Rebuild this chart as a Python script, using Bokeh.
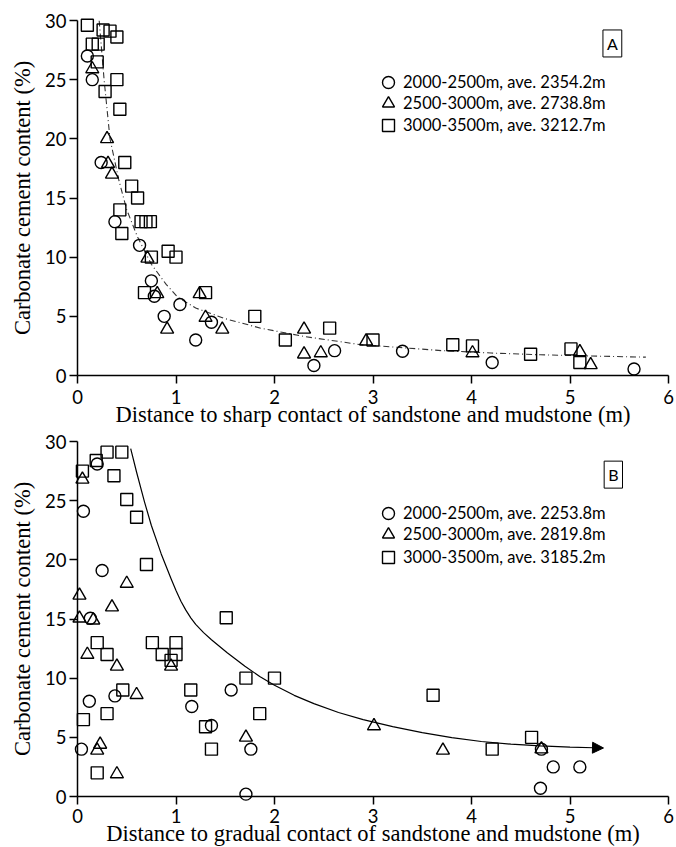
from bokeh.plotting import figure
from bokeh.models import Legend, LegendItem, Label, Arrow, NormalHead, FixedTicker, Range1d
from bokeh.layouts import column
from bokeh.embed import file_html
from bokeh.resources import INLINE

# ---------------- Panel A data (sharp contact) ----------------
a_circ_x = [0.10, 0.15, 0.24, 0.38, 0.63, 0.75, 0.78, 0.88, 1.04, 1.20, 1.36, 2.40, 2.61, 3.30, 4.21, 5.65]
a_circ_y = [27.0, 25.0, 18.0, 13.0, 11.0, 8.0, 6.7, 5.0, 6.0, 3.0, 4.5, 0.85, 2.1, 2.05, 1.1, 0.55]

a_tri_x = [0.15, 0.30, 0.31, 0.35, 0.71, 0.81, 0.91, 1.24, 1.30, 1.47, 2.30, 2.30, 2.47, 2.93, 4.01, 5.10, 5.21]
a_tri_y = [25.9, 20.0, 17.9, 17.0, 9.9, 6.9, 3.9, 6.9, 4.9, 3.9, 3.9, 1.8, 1.9, 2.9, 1.9, 2.0, 0.9]

a_sq_x = [0.10, 0.26, 0.33, 0.40, 0.15, 0.21, 0.20, 0.40, 0.28, 0.43, 0.48, 0.55, 0.61, 0.43, 0.645, 0.695,
          0.74, 0.45, 0.75, 0.92, 1.00, 0.68, 1.30, 1.80, 2.11, 2.56, 3.00, 3.81, 4.01, 4.60, 5.01, 5.10]
a_sq_y = [29.6, 29.2, 29.1, 28.6, 28.0, 28.0, 26.5, 25.0, 24.0, 22.5, 18.0, 16.0, 15.0, 14.0, 13.0, 13.0,
          13.0, 12.0, 10.0, 10.5, 10.0, 7.0, 7.0, 5.0, 3.0, 4.0, 3.0, 2.6, 2.5, 1.8, 2.25, 1.1]

a_fit_x = [0.22, 0.27, 0.33, 0.42, 0.50, 0.61, 0.75, 0.90, 1.02, 1.20, 1.50, 1.86, 2.30, 2.88, 3.30, 3.70, 4.20, 4.70, 5.20, 5.77]
a_fit_y = [30.0, 25.0, 20.0, 16.5, 14.0, 11.7, 9.4, 7.7, 6.6, 5.7, 4.8, 4.0, 3.3, 2.6, 2.35, 2.1, 1.9, 1.75, 1.65, 1.55]

a_labels = ["2000-2500m, ave. 2354.2m", "2500-3000m, ave. 2738.8m", "3000-3500m, ave. 3212.7m"]

# ---------------- Panel B data (gradual contact) ----------------
b_circ_x = [0.20, 0.06, 0.25, 0.13, 0.38, 0.12, 0.04, 1.16, 1.36, 1.56, 1.76, 1.71, 4.71, 4.70, 4.83, 5.10]
b_circ_y = [28.1, 24.1, 19.1, 15.06, 8.5, 8.05, 4.0, 7.6, 6.0, 9.0, 4.0, 0.2, 4.0, 0.7, 2.5, 2.5]

b_tri_x = [0.05, 0.50, 0.02, 0.35, 0.02, 0.16, 0.10, 0.40, 0.60, 0.23, 0.20, 0.40, 0.95, 1.71, 3.01, 3.71, 4.71]
b_tri_y = [26.8, 18.0, 17.0, 16.0, 15.06, 14.9, 12.0, 11.0, 8.6, 4.4, 3.9, 1.9, 11.0, 5.0, 5.96, 3.9, 4.0]

b_sq_x = [0.30, 0.45, 0.19, 0.05, 0.37, 0.50, 0.60, 0.70, 1.51, 0.20, 0.30, 0.46, 0.30, 0.06, 0.20, 0.76,
          1.00, 0.86, 1.00, 0.95, 1.15, 1.30, 1.36, 1.71, 1.85, 2.00, 3.61, 4.21, 4.61]
b_sq_y = [29.1, 29.1, 28.4, 27.5, 27.1, 25.1, 23.6, 19.6, 15.1, 13.0, 12.0, 9.0, 7.0, 6.5, 2.0, 13.0,
          13.0, 12.0, 12.0, 11.5, 9.0, 5.9, 4.0, 10.0, 7.0, 10.0, 8.56, 4.0, 5.0]

b_fit_x = [0.54, 0.60, 0.68, 0.75, 0.85, 0.95, 1.00, 1.05, 1.10, 1.15, 1.20, 1.28, 1.36, 1.52, 1.70, 1.85,
           2.00, 2.20, 2.40, 2.65, 2.90, 3.20, 3.50, 3.80, 4.10, 4.40, 4.70, 5.00, 5.24]
b_fit_y = [29.4, 27.4, 24.9, 22.9, 20.5, 18.4, 17.4, 16.5, 15.75, 15.1, 14.55, 13.85, 13.25, 12.15, 11.0, 10.15,
           9.4, 8.55, 7.85, 7.1, 6.5, 5.9, 5.4, 4.98, 4.65, 4.42, 4.27, 4.17, 4.12]
b_arrow_end = (5.34, 4.10)

b_labels = ["2000-2500m, ave. 2253.8m", "2500-3000m, ave. 2819.8m", "3000-3500m, ave. 3185.2m"]

x_ticks = [0, 1, 2, 3, 4, 5, 6]
y_ticks = [0, 5, 10, 15, 20, 25, 30]

SANS = "Lato"
SERIF = "Liberation Serif"


def make_panel(xtitle, top_border, label_standoff, title_standoff,
               cx, cy, tx, ty, sx, sy, labels, tag, tag_xy, legend_x, legend_ys):
    p = figure(frame_width=591, frame_height=355, output_backend="svg", toolbar_location=None,
               x_range=Range1d(0, 6), y_range=Range1d(0, 30),
               min_border_left=77, min_border_right=8, min_border_top=top_border, min_border_bottom=4)
    p.outline_line_color = None
    p.xgrid.visible = False
    p.ygrid.visible = False
    p.background_fill_color = "white"
    p.border_fill_color = "white"

    for ax in (p.xaxis[0], p.yaxis[0]):
        ax.axis_line_width = 1.5
        ax.major_tick_line_width = 1.5
        ax.major_tick_out = 8
        ax.major_tick_in = 0
        ax.minor_tick_out = 0
        ax.minor_tick_in = 0
        ax.major_label_text_font = SANS
        ax.major_label_text_font_size = "18.5px"
        ax.major_label_text_color = "black"
        ax.axis_label_text_font = SERIF
        ax.axis_label_text_font_size = "22.5px"
        ax.axis_label_text_font_style = "normal"
        ax.axis_label_text_color = "black"
    p.xaxis[0].ticker = FixedTicker(ticks=x_ticks)
    p.yaxis[0].ticker = FixedTicker(ticks=y_ticks)
    p.xaxis[0].axis_label = xtitle
    p.yaxis[0].axis_label = "Carbonate cement content (%)"
    p.xaxis[0].major_label_standoff = label_standoff
    p.xaxis[0].axis_label_standoff = title_standoff
    p.yaxis[0].major_label_standoff = 3
    p.yaxis[0].axis_label_standoff = 7

    rc = p.scatter(cx, cy, marker="circle", size=12, fill_color=None, line_color="black", line_width=1.4, level="overlay")
    rt = p.scatter(tx, ty, marker="triangle", size=13, fill_color=None, line_color="black", line_width=1.4, level="overlay")
    rs = p.scatter(sx, sy, marker="square", size=12, fill_color=None, line_color="black", line_width=1.4, level="overlay")

    for lab_text, rend, ly in zip(labels, (rc, rt, rs), legend_ys):
        legend = Legend(items=[LegendItem(label=lab_text, renderers=[rend])],
                        location=(legend_x, ly), orientation="vertical",
                        glyph_width=30, glyph_height=30, spacing=0, padding=0, margin=0,
                        label_standoff=0, label_text_font=SANS, label_text_font_size="16.5px",
                        label_text_color="black", border_line_alpha=0, background_fill_alpha=0)
        p.add_layout(legend)

    lab = Label(x=tag_xy[0], y=tag_xy[1], text=tag, text_align="center", text_baseline="middle",
                text_font=SANS, text_font_size="16px", text_color="black",
                border_line_color="black", border_line_width=1, background_fill_color="white", padding=4)
    p.add_layout(lab)
    return p


pA = make_panel("Distance to sharp contact of sandstone and mudstone (m)", 20, 6, -5,
                a_circ_x, a_circ_y, a_tri_x, a_tri_y, a_sq_x, a_sq_y, a_labels, "A", (5.43, 28.06),
                296, (278, 257, 235))
pA.line(a_fit_x, a_fit_y, line_color="#333333", line_width=1.1, line_dash="6 3 1 3")

pB = make_panel("Distance to gradual contact of sandstone and mudstone (m)", 12, 4, -5,
                b_circ_x, b_circ_y, b_tri_x, b_tri_y, b_sq_x, b_sq_y, b_labels, "B", (5.44, 27.2),
                296, (268, 247, 224))
pB.line(b_fit_x, b_fit_y, line_color="black", line_width=1.2)
pB.add_layout(Arrow(end=NormalHead(size=11, fill_color="black", line_color="black", line_width=1),
                    x_start=b_fit_x[-1], y_start=b_fit_y[-1], x_end=b_arrow_end[0], y_end=b_arrow_end[1],
                    line_color="black", line_width=1.2))

layout = column(pA, pB, spacing=0)
open("out.html", "w").write(file_html(layout, INLINE))
